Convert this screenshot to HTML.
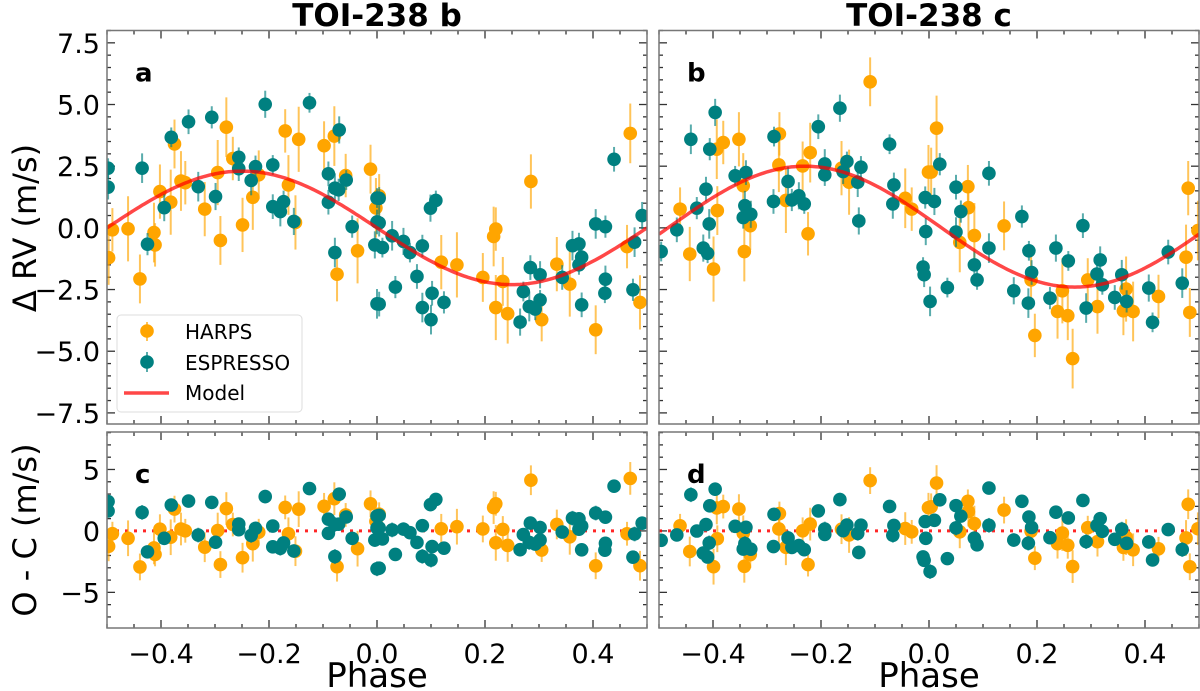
<!DOCTYPE html>
<html><head><meta charset="utf-8"><style>
html,body{margin:0;padding:0;background:#fff;}
svg{display:block;font-family:"DejaVu Sans","Liberation Sans",sans-serif;}
</style></head><body>
<svg id="chart" width="1200" height="691" viewBox="0 0 1200 691" xmlns="http://www.w3.org/2000/svg"></svg>
<script>
// ---- Data (phase, RV m/s) ----
const bHarpsPhase = [-0.49,-0.497,-0.461,-0.439,-0.413,-0.411,-0.402,-0.382,-0.375,-0.363,-0.355,-0.319,-0.295,-0.29,-0.279,-0.267,-0.249,-0.23,-0.219,-0.164,-0.17,-0.151,-0.145,-0.098,-0.079,-0.058,-0.074,-0.036,-0.012,-0.002,0.004,0.119,0.148,0.196,0.216,0.22,0.285,0.22,0.233,0.242,0.305,0.333,0.357,0.405,0.469,0.463,0.487];
const bHarpsRV = [-0.08,-1.21,-0.04,-2.07,-0.19,-0.69,1.47,1.04,3.4,1.9,1.83,0.76,2.24,-0.51,4.08,2.81,0.12,1.24,2.15,1.74,3.93,0.22,3.59,3.33,3.72,2.12,-1.88,-0.93,2.38,0.81,1.3,-1.39,-1.5,-2.01,-0.35,-0.05,1.88,-3.23,-2.17,-3.48,-3.72,-1.47,-2.28,-4.13,3.83,-0.76,-3.02];
const bEspPhase = [-0.498,-0.498,-0.435,-0.425,-0.394,-0.381,-0.349,-0.331,-0.306,-0.299,-0.256,-0.256,-0.233,-0.225,-0.207,-0.193,-0.193,-0.179,-0.173,-0.154,-0.125,-0.09,-0.078,-0.071,-0.07,-0.057,-0.09,-0.078,-0.046,-0.004,0.0,0.0,0.0,0.004,0.004,0.01,0.004,0.028,0.034,0.049,0.061,0.074,0.084,0.084,0.099,0.109,0.102,0.1,0.124,0.265,0.271,0.284,0.282,0.293,0.302,0.302,0.343,0.362,0.374,0.379,0.374,0.379,0.405,0.423,0.423,0.422,0.439,0.477,0.474,0.491];
const bEspRV = [2.42,1.65,2.42,-0.66,0.82,3.67,4.3,1.67,4.48,1.27,2.86,2.4,1.92,2.48,5.01,2.55,0.86,0.66,1.06,0.26,5.07,2.19,1.61,1.54,3.97,1.94,1.04,-1.0,0.05,-0.69,1.21,0.24,-3.08,1.2,0.2,-0.8,-3.09,-0.32,-2.4,-0.55,-1.0,-1.97,-3.23,-0.73,0.8,1.11,-2.65,-3.72,-3.02,-3.82,-2.58,-1.61,-3.19,-3.29,-1.9,-2.92,-2.01,-0.72,-0.65,-1.19,-1.5,-3.12,0.16,0.05,-2.08,-2.65,2.78,-0.58,-2.51,0.5];
const cHarpsPhase = [-0.461,-0.443,-0.399,-0.392,-0.393,-0.381,-0.352,-0.344,-0.331,-0.342,-0.277,-0.278,-0.265,-0.234,-0.22,-0.224,-0.162,-0.148,-0.109,-0.044,-0.032,-0.001,0.014,0.004,0.057,0.072,0.073,0.084,0.139,0.189,0.196,0.238,0.247,0.257,0.266,0.294,0.312,0.365,0.36,0.378,0.425,0.48,0.476,0.483,0.498];
const cHarpsRV = [0.76,-1.06,-1.67,0.7,3.19,3.46,3.59,1.71,0.09,-0.96,3.81,2.55,1.11,2.51,3.05,-0.24,2.42,1.85,5.92,1.2,0.76,2.26,4.04,2.26,-0.59,1.67,0.82,-0.31,0.08,-2.11,-4.36,-3.39,-2.55,-3.56,-5.3,-2.11,-3.19,-2.48,-3.36,-3.39,-2.78,1.61,-1.19,-3.43,-0.11];
const cEspPhase = [-0.496,-0.467,-0.441,-0.43,-0.418,-0.41,-0.413,-0.407,-0.406,-0.396,-0.359,-0.339,-0.341,-0.344,-0.33,-0.287,-0.288,-0.261,-0.254,-0.241,-0.231,-0.205,-0.193,-0.193,-0.165,-0.152,-0.159,-0.132,-0.126,-0.13,-0.073,-0.065,-0.067,-0.007,-0.006,-0.011,-0.009,0.002,0.02,0.01,0.034,0.05,0.05,0.059,0.084,0.089,0.111,0.111,0.172,0.157,0.185,0.19,0.184,0.224,0.235,0.258,0.285,0.291,0.311,0.317,0.321,0.344,0.357,0.366,0.407,0.414,0.443,0.469];
const cEspRV = [-0.96,-0.08,3.59,0.8,-0.82,-1.03,1.57,0.16,3.19,4.68,2.11,2.24,0.9,0.42,0.55,3.7,1.07,1.88,1.13,1.3,0.97,4.1,2.59,2.15,4.85,2.69,2.28,1.85,2.46,0.28,3.39,1.74,0.97,1.23,-0.15,-1.59,-1.9,-2.98,2.58,1.07,-2.42,1.65,-0.17,0.66,-1.5,-2.11,2.21,-0.82,0.46,-2.55,-0.93,-1.81,-3.05,-2.85,-0.82,-1.34,0.09,-3.25,-1.87,-1.3,-2.31,-2.82,-1.9,-2.98,-2.44,-3.83,-0.98,-2.24];
// model parameters: [semi-amplitude K, phase shift, offset]
const bModel = [2.3, 0.0, 0.0];
const cModel = [2.45, 0.02, 0.05];
const harpsErr = 1.1, espErr = 0.5;
const xTicks = [-0.4,-0.2,0.0,0.2,0.4];
const xTickLabels = ["\u22120.4","\u22120.2","0.0","0.2","0.4"];
const yTopTicks = [7.5,5.0,2.5,0.0,-2.5,-5.0,-7.5];
const yTopLabels = ["7.5","5.0","2.5","0.0","\u22122.5","\u22125.0","\u22127.5"];
const yBotTicks = [5,0,-5];
const yBotLabels = ["5","0","\u22125"];

const NS="http://www.w3.org/2000/svg";
const svg=document.getElementById('chart');
function mk(tag,attrs,parent){const e=document.createElementNS(NS,tag);for(const k in attrs)e.setAttribute(k,attrs[k]);(parent||svg).appendChild(e);return e;}
const ORANGE="#ffa500", TEAL="#008080";
const panels=[{x0:107,x1:647},{x0:659,x1:1199}];
const TOP={y0:30.5,y1:424,vmin:-7.95,vmax:8.0};
const BOT={y0:432,y1:628,vmin:-7.9,vmax:8.05};
function model(p,ph){return -p[0]*Math.sin(2*Math.PI*(ph-p[1]))+p[2];}

function drawPanel(pi,row,name,letter,showY,hp,hr,ep,er,mp,resid){
  const P=panels[pi], R=row;
  const g=mk('g',{});
  
  
  const sx=v=>P.x0+(v+0.5)*(P.x1-P.x0);
  const sy=v=>R.y1-(v-R.vmin)/(R.vmax-R.vmin)*(R.y1-R.y0);
  const clipId='clip'+name;
  const cp=mk('clipPath',{id:clipId},g);mk('rect',{x:P.x0,y:R.y0,width:P.x1-P.x0,height:R.y1-R.y0},cp);
  const tg=mk('g',{stroke:'#333','stroke-width':1.3},g);
  for(let i=-10;i<=10;i++){const v=i*0.05;const x=sx(v);const maj=Math.abs(i%4)==0;const L=maj?8:4;
    mk('line',{x1:x,y1:R.y1,x2:x,y2:R.y1-L},tg);mk('line',{x1:x,y1:R.y0,x2:x,y2:R.y0+L},tg);}
  const minorStep=row===TOP?0.5:1;
  const majTicks=row===TOP?yTopTicks:yBotTicks;
  for(let v=-8;v<=8.001;v+=minorStep){const y=sy(v);if(y<R.y0||y>R.y1)continue;
    const maj=majTicks.some(t=>Math.abs(t-v)<1e-6);const L=maj?8:4;
    mk('line',{x1:P.x0,y1:y,x2:P.x0+L,y2:y},tg);mk('line',{x1:P.x1,y1:y,x2:P.x1-L,y2:y},tg);}
  const dg=mk('g',{'clip-path':'url(#'+clipId+')'},g);
  if(resid){const zl=mk('line',{x1:P.x0,x2:P.x1,y1:sy(0),y2:sy(0),stroke:'#ff0000','stroke-width':3,'stroke-dasharray':'3 6','stroke-opacity':0.85},dg);
    }
  function series(ph,rv,col,err,sname){
    const s=mk('g',{},dg);
    
    
    for(let i=0;i<ph.length;i++){
      let v=rv[i]; if(resid) v=rv[i]-model(mp,ph[i]);
      const x=sx(ph[i]), y=sy(v);
      const e=err*(0.8+0.4*((i*7)%5)/4);
      mk('line',{x1:x,x2:x,y1:sy(v+e),y2:sy(v-e),stroke:col,'stroke-width':2,'stroke-opacity':0.65},s);
      const c=mk('circle',{cx:x,cy:y,r:6.8,fill:col},s);
      
      
    }
  }
  series(hp,hr,ORANGE,resid?harpsErr*1.1:harpsErr,'harps-points');
  series(ep,er,TEAL,espErr,'espresso-points');
  if(!resid){let d='';for(let k=0;k<=200;k++){const ph=-0.5+k/200;d+=(k?'L':'M')+sx(ph).toFixed(1)+','+sy(model(mp,ph)).toFixed(1);}
    const m=mk('path',{d:d,fill:'none',stroke:'#ff0000','stroke-width':3.5,'stroke-opacity':0.72},dg);
    }
  const fr=mk('rect',{x:P.x0,y:R.y0,width:P.x1-P.x0,height:R.y1-R.y0,fill:'none',stroke:'#777','stroke-width':1.5},g);
  
  const lt=mk('text',{x:P.x0+28,y:R.y0+51,'font-size':26,'font-weight':'bold',fill:'#000'},g);lt.textContent=letter;
  
  if(showY){const labs=row===TOP?yTopLabels:yBotLabels;majTicks.forEach((t,i)=>{
    const tx=mk('text',{x:P.x0-7,y:sy(t)+10,'font-size':27,'text-anchor':'end',fill:'#000'},g);tx.textContent=labs[i];
    });}
  if(row===BOT){xTicks.forEach((t,i)=>{const tx=mk('text',{x:sx(t),y:R.y1+35,'font-size':27,'text-anchor':'middle',fill:'#000'},g);tx.textContent=xTickLabels[i];
    });}
}
drawPanel(0,TOP,'panel-a','a',true,bHarpsPhase,bHarpsRV,bEspPhase,bEspRV,bModel,false);
drawPanel(1,TOP,'panel-b','b',false,cHarpsPhase,cHarpsRV,cEspPhase,cEspRV,cModel,false);
drawPanel(0,BOT,'panel-c','c',true,bHarpsPhase,bHarpsRV,bEspPhase,bEspRV,bModel,true);
drawPanel(1,BOT,'panel-d','d',false,cHarpsPhase,cHarpsRV,cEspPhase,cEspRV,cModel,true);
</script>
<svg style="position:absolute;left:0;top:0" width="1200" height="691">
  <text x="377" y="26" font-size="31" font-weight="bold" text-anchor="middle" font-family="DejaVu Sans, sans-serif">TOI-238 b</text>
  <text x="929" y="26" font-size="31" font-weight="bold" text-anchor="middle" font-family="DejaVu Sans, sans-serif">TOI-238 c</text>
  <text transform="translate(36,228) rotate(-90)" font-size="32" text-anchor="middle" font-family="DejaVu Sans, sans-serif">Δ RV (m/s)</text>
  <text transform="translate(36,530) rotate(-90)" font-size="32" text-anchor="middle" font-family="DejaVu Sans, sans-serif">O - C (m/s)</text>
  <text x="377" y="687" font-size="34" text-anchor="middle" font-family="DejaVu Sans, sans-serif">Phase</text>
  <text x="929" y="687" font-size="34" text-anchor="middle" font-family="DejaVu Sans, sans-serif">Phase</text>
  <g font-family="DejaVu Sans, sans-serif">
    <rect x="117" y="315" width="185" height="97" rx="4" fill="#fff" fill-opacity="0.85" stroke="#ddd" stroke-width="1"/>
    <g>
      <line x1="147" x2="147" y1="322" y2="341" stroke="#ffa500" stroke-width="2" stroke-opacity="0.65"/>
      <circle cx="147" cy="331" r="6.8" fill="#ffa500"/>
      <text x="185" y="339" font-size="20">HARPS</text>
    </g>
    <g>
      <line x1="147" x2="147" y1="352" y2="372" stroke="#008080" stroke-width="2" stroke-opacity="0.65"/>
      <circle cx="147" cy="362" r="6.8" fill="#008080"/>
      <text x="185" y="370" font-size="20">ESPRESSO</text>
    </g>
    <g>
      <line x1="124" x2="169" y1="393" y2="393" stroke="#ff0000" stroke-width="3.5" stroke-opacity="0.72"/>
      <text x="185" y="400" font-size="20">Model</text>
    </g>
  </g>
</svg>
</body></html>
